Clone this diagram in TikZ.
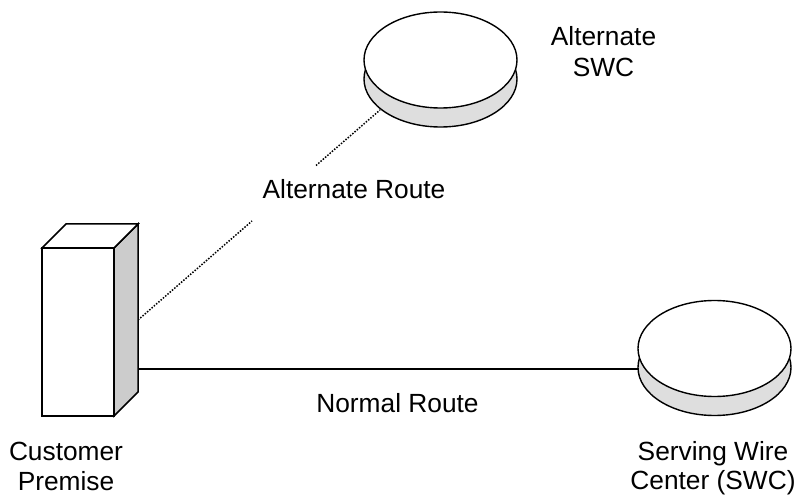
\documentclass[tikz,border=0pt]{standalone}
\usepackage{fontspec}
\setmainfont{Liberation Sans}
\usetikzlibrary{shapes.geometric}
\tikzset{
  px/.style={x=1pt,y=-1pt},
  outline/.style={draw=black,line width=1.5pt,line join=miter},
  disctop/.style={ellipse,draw=black,line width=1.4pt,fill=white,minimum width=153pt,minimum height=96pt,inner sep=0pt},
  discbase/.style={ellipse,draw=black,line width=1.4pt,fill=black!13,minimum width=153pt,minimum height=96pt,inner sep=0pt},
  lbl/.style={font=\fontsize{26.3}{30.5}\selectfont,align=center,inner sep=0pt},
  link/.style={draw=black,line width=1.2pt},
  altlink/.style={draw=black,line width=1.5pt,dash pattern=on 1.5pt off 1.5pt}
}
\begin{document}
\begin{tikzpicture}[px]
\useasboundingbox (0,0) rectangle (796,497);
% links
\coordinate (boxAlt) at (138,320);
\coordinate (boxNorm) at (138,369);
\coordinate (altEnd) at (380,110);
\coordinate (swcEnd) at (640,369);
\coordinate (gapLow) at (252,221);
\coordinate (gapHigh) at (316,165.5);
\draw[altlink] (boxAlt) -- (gapLow);
\draw[altlink] (gapHigh) -- (altEnd);
\draw[link] (boxNorm) -- (swcEnd);
% alternate SWC
\node[discbase] (altbase) at (440.5,79) {};
\node[disctop] (alttop) at (440.5,60) {};
% SWC
\node[discbase] (swcbase) at (714.5,367.5) {};
\node[disctop] (swctop) at (714.5,348.5) {};
% customer premise
\coordinate (fl) at (42,248); \coordinate (fr) at (114,248);
\coordinate (bl) at (42,416); \coordinate (br) at (114,416);
\coordinate (tb) at (66,224); \coordinate (tr) at (138,224);
\coordinate (sb) at (138,392);
\draw[outline,fill=black!20] (fr) -- (tr) -- (sb) -- (br) -- cycle;
\draw[outline,fill=white] (fl) -- (tb) -- (tr) -- (fr) -- cycle;
\draw[outline,fill=white] (fl) -- (fr) -- (br) -- (bl) -- cycle;
% labels
\node[lbl,anchor=base] (altroute) at (354,199) {Alternate Route};
\node[lbl,anchor=base] (normal) at (397.5,412) {Normal Route};
\node[lbl] (altlabel) at (603.5,51.5) {Alternate\\SWC};
\node[lbl] (cust) at (66,466.5) {Customer\\Premise};
\node[lbl] (swc) at (713,468.5) {Serving Wire\\[-1.5pt]Center (SWC)};
\end{tikzpicture}
\end{document}
